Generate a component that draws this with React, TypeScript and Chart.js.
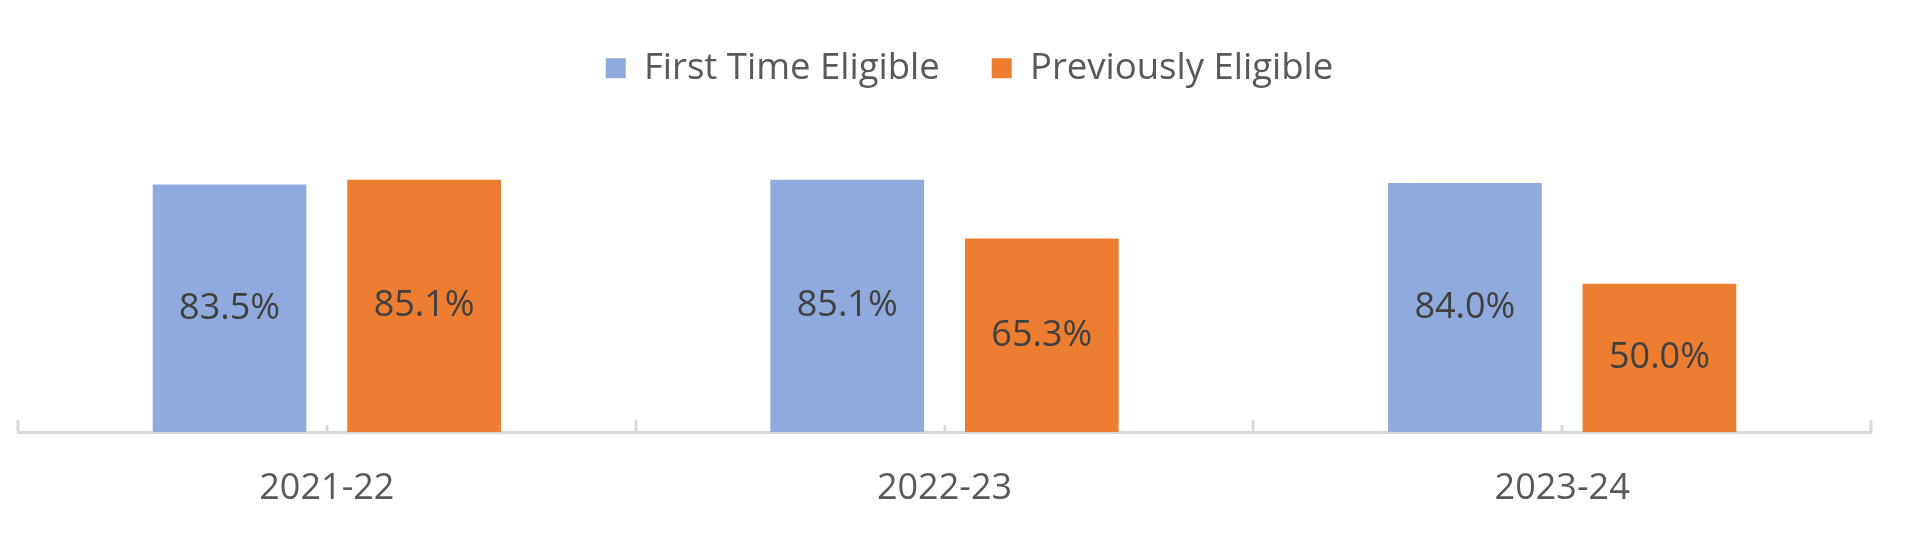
import React, { useEffect, useRef } from "react";
import { Chart, registerables } from "chart.js";

Chart.register(...registerables);

const categories = ["2021-22", "2022-23", "2023-24"];
const seriesNames = ["First Time Eligible", "Previously Eligible"];
const firstTimeEligible = [83.5, 85.1, 84.0];
const previouslyEligible = [85.1, 65.3, 50.0];
const seriesColors = ["#8FAADC", "#ED7D31"];

const FONT = "'Open Sans', sans-serif";
const FONT_SIZE = 36;
const LEGEND_FONT_SIZE = 36.5;

const barLabels = {
  id: "barLabels",
  afterDatasetsDraw(chart: any) {
    const ctx = chart.ctx;
    ctx.save();
    ctx.font = `${FONT_SIZE}px ${FONT}`;
    ctx.fillStyle = "#404040";
    ctx.textAlign = "center";
    ctx.textBaseline = "middle";
    chart.data.datasets.forEach((ds: any, di: number) => {
      const meta = chart.getDatasetMeta(di);
      meta.data.forEach((el: any, i: number) => {
        const v = ds.data[i];
        const p = el.getProps(["x", "y", "base"], true);
        ctx.fillText(v.toFixed(1) + "%", p.x, (p.y + p.base) / 2);
      });
    });
    ctx.restore();
  },
};

const axisTicks = {
  id: "axisTicks",
  afterDraw(chart: any) {
    const xs = chart.scales.x;
    const ctx = chart.ctx;
    const n = categories.length;
    const bottom = chart.chartArea.bottom;
    const step = (xs.right - xs.left) / n;
    ctx.save();
    ctx.strokeStyle = "#d9d9d9";
    ctx.lineWidth = 3;
    ctx.beginPath();
    for (let i = 0; i <= n; i++) {
      const x = Math.round(xs.left + i * step);
      ctx.moveTo(x, bottom + 1);
      ctx.lineTo(x, bottom - 12);
    }
    for (let i = 0; i < n; i++) {
      const x = Math.round(xs.getPixelForValue(i));
      ctx.moveTo(x, bottom + 1);
      ctx.lineTo(x, bottom - 7);
    }
    ctx.stroke();
    ctx.restore();
  },
};

const legendShift = {
  id: "legendShift",
  afterLayout(chart: any) {
    if (chart.legend) {
      chart.legend.left += 25;
      chart.legend.right += 25;
    }
  },
};

export default function App() {
  const ref = useRef<HTMLCanvasElement | null>(null);
  useEffect(() => {
    if (!ref.current) return;
    const chart = new Chart(ref.current, {
      type: "bar",
      data: {
        labels: categories,
        datasets: [
          {
            label: seriesNames[0],
            data: firstTimeEligible,
            backgroundColor: seriesColors[0],
            categoryPercentage: 0.63,
            barPercentage: 0.79,
          },
          {
            label: seriesNames[1],
            data: previouslyEligible,
            backgroundColor: seriesColors[1],
            categoryPercentage: 0.63,
            barPercentage: 0.79,
          },
        ],
      },
      options: {
        responsive: false,
        animation: false,
        layout: { padding: { top: -2, left: 18, right: 53, bottom: 16.5 } },
        plugins: {
          legend: {
            display: true,
            position: "top",
            labels: {
              boxWidth: 20,
              boxHeight: 20,
              padding: 52,
              color: "#595959",
              font: { family: FONT, size: LEGEND_FONT_SIZE },
            },
          },
          tooltip: { enabled: false },
        },
        scales: {
          x: {
            grid: { display: false },
            border: { display: true, color: "#d9d9d9", width: 3 },
            ticks: {
              color: "#595959",
              padding: 27,
              font: { family: FONT, size: FONT_SIZE },
            },
          },
          y: {
            display: false,
            min: 0,
            max: 113.1,
          },
        },
      },
      plugins: [barLabels, axisTicks, legendShift],
    });
    return () => chart.destroy();
  }, []);
  return (
    <div style={{ position: "absolute", left: 0, top: 0, width: 1924, height: 554, background: "#fff" }}>
      <canvas ref={ref} width={1924} height={554} style={{ display: "block" }} />
    </div>
  );
}
